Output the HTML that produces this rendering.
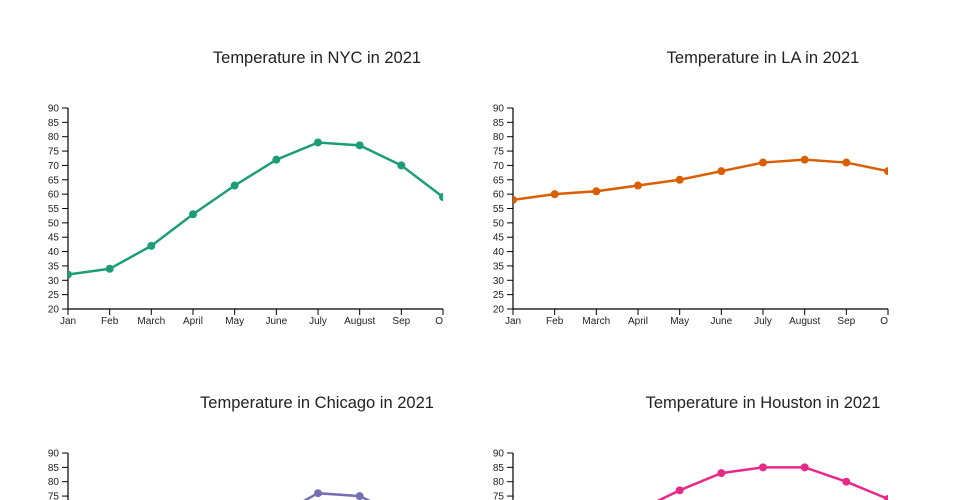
<!DOCTYPE html>
<html><head><meta charset="utf-8"><style>
html,body{margin:0;background:#fff;width:960px;height:500px;overflow:hidden;}
svg{font-family:"Liberation Sans",sans-serif;display:block;}
</style></head><body>
<svg id="c" width="960" height="500" overflow="hidden"></svg>
<script>
const months=["Jan","Feb","March","April","May","June","July","August","Sep","Oct"];
const yTicks=[20,25,30,35,40,45,50,55,60,65,70,75,80,85,90];
const nycValues=[32,34,42,53,63,72,78,77,70,59];
const laValues=[58,60,61,63,65,68,71,72,71,68];
const chicagoValues=[24,28,38,48,58,68,76,75,68,55];
const houstonValues=[53,58,64,70,77,83,85,85,80,74];
const titles=["Temperature in NYC in 2021","Temperature in LA in 2021","Temperature in Chicago in 2021","Temperature in Houston in 2021"];
const colors=["#1b9e77","#d95f02","#7570b3","#e7298a"];
const series=[nycValues,laValues,chicagoValues,houstonValues];
const names=["nyc","la","chicago","houston"];
const ns="http://www.w3.org/2000/svg";
const svg=document.getElementById("c");
function mk(t,a,p){const e=document.createElementNS(ns,t);for(const k in a)e.setAttribute(k,a[k]);(p||svg).appendChild(e);return e;}
const panels=[{x0:68,y0:108},{x0:513,y0:108},{x0:68,y0:453},{x0:513,y0:453}];
const W=375,H=201,step=W/9,MAXY=500;
panels.forEach((p,i)=>{
  const g=mk("g",{});
  
  
  const xs=j=>p.x0+j*step;
  const ys=v=>p.y0+H-(v-20)/70*H;
  const t=mk("text",{x:i%2?763:317,y:p.y0-45,"font-size":"16.5","text-anchor":"middle",fill:"#222"},g);
  t.textContent=titles[i];
  
  
  const cp=mk("clipPath",{id:"cp"+i},g);
  mk("rect",{x:p.x0,y:p.y0-6,width:W,height:Math.min(H+12,MAXY-(p.y0-6))},cp);
  const yax=mk("g",{},g);
  
  
  mk("line",{x1:p.x0,x2:p.x0,y1:p.y0,y2:Math.min(p.y0+H,MAXY),stroke:"#000","stroke-width":1.2},yax);
  yTicks.forEach(v=>{
    if(ys(v)>MAXY-3) return;
    mk("line",{x1:p.x0-6,x2:p.x0,y1:ys(v),y2:ys(v),stroke:"#000"},yax);
    const l=mk("text",{x:p.x0-9,y:ys(v)+3.5,"font-size":"10","text-anchor":"end",fill:"#222"},yax);
    l.textContent=v;
  });
  if(p.y0+H<MAXY){
    const xax=mk("g",{},g);
    
    
    mk("line",{x1:p.x0,x2:p.x0+W,y1:p.y0+H,y2:p.y0+H,stroke:"#000","stroke-width":1.2},xax);
    const cp2=mk("clipPath",{id:"xcp"+i},g);
    mk("rect",{x:p.x0-20,y:p.y0+H,width:W+20,height:30},cp2);
    const xc=mk("g",{"clip-path":"url(#xcp"+i+")"},xax);
    months.forEach((m,j)=>{
      mk("line",{x1:xs(j),x2:xs(j),y1:p.y0+H,y2:p.y0+H+6,stroke:"#000"},xax);
      const l=mk("text",{x:xs(j),y:p.y0+H+15,"font-size":"10","text-anchor":"middle",fill:"#222"},xc);
      l.textContent=m;
    });
  }
  const sg=mk("g",{"clip-path":"url(#cp"+i+")"},g);
  const vals=series[i];
  const line=mk("polyline",{points:vals.map((v,j)=>xs(j)+","+ys(v)).join(" "),fill:"none",stroke:colors[i],"stroke-width":2.5},sg);
  
  
  vals.forEach((v,j)=>{
    if(ys(v)>MAXY+5) return;
    const c=mk("circle",{cx:xs(j),cy:ys(v),r:4,fill:colors[i]},sg);
    
    
  });
});
</script>
</body></html>
